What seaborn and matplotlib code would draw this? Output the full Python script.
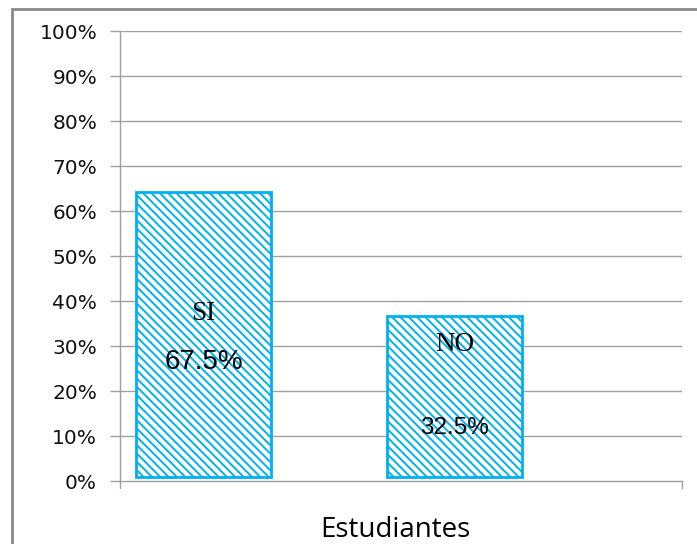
import matplotlib
matplotlib.use("Agg")
import matplotlib.pyplot as plt
import seaborn as sns
import pandas as pd
from matplotlib.patches import Rectangle

# ---- data ----
categories = ["SI", "NO"]
bar_values = [64.2, 36.7]          # drawn bar heights (%)
value_labels = ["67.5%", "32.5%"]  # texts written inside bars
x_title = "Estudiantes"
y_ticks = list(range(0, 101, 10))
y_tick_labels = [f"{v}%" for v in y_ticks]

df = pd.DataFrame({"cat": categories, "val": bar_values})

sns.set_theme(style="white")
plt.rcParams["font.family"] = ["DejaVu Sans"]
plt.rcParams["hatch.linewidth"] = 1.4

fig = plt.figure(figsize=(6.97, 5.44), dpi=100)
ax = fig.add_axes([0.1722, 0.1158, 0.8063, 0.8272])

blue = "#00B0F0"
sns.barplot(data=df, x="cat", y="val", ax=ax, color="white", width=0.54,
            edgecolor=blue, linewidth=2, saturation=1, zorder=3)

base = 0.9
for p in ax.patches:
    p.set_hatch("\\" * 4)
    p.set_facecolor("white")
    p.set_edgecolor(blue)
    h = p.get_height()
    p.set_y(base)
    p.set_height(h - base)

# text inside bars
name_y = [37.3, 30.4]
val_y = [26.4, 11.8]
val_sizes = [20, 17.5]
for i, (c, lab) in enumerate(zip(categories, value_labels)):
    ax.text(i, name_y[i], c, ha="center", va="center", fontsize=19.5,
            family="Liberation Serif", color="black", zorder=5)
    ax.text(i, val_y[i], lab, ha="center", va="center", fontsize=val_sizes[i],
            family="Liberation Sans", color="black", zorder=5)

ax.set_xlim(-0.333, 1.906)
ax.set_ylim(0, 100)
ax.set_yticks(y_ticks)
ax.set_yticklabels(y_tick_labels, fontsize=14.5, color="#111111")
ax.set_xticks([])
ax.set_xlabel("")
ax.set_ylabel("")

for y in y_ticks[1:]:
    ax.axhline(y, color="#a0a0a0", lw=1, zorder=1)

for s in ["top", "right"]:
    ax.spines[s].set_visible(False)
for s in ["left", "bottom"]:
    ax.spines[s].set_visible(True)
    ax.spines[s].set_color("#a0a0a0")
    ax.spines[s].set_linewidth(1)

ax.tick_params(axis="y", length=7, width=1, color="#a0a0a0", pad=9.5, left=True)
# end ticks of x axis
for xpos in ax.get_xlim():
    ax.plot([xpos, xpos], [0, -1.5], color="#a0a0a0", lw=1, clip_on=False)

fig.text(0.567, 0.012, x_title, ha="center", va="baseline", fontsize=20,
         family="Open Sans", color="black")

# outer frame
fig.patches.append(Rectangle((12 / 697, -0.1), 1.2, 1.1 - 9 / 544,
                             transform=fig.transFigure, fill=False,
                             edgecolor="#8a8a8a", lw=2))

fig.savefig("out.png", dpi=100)
